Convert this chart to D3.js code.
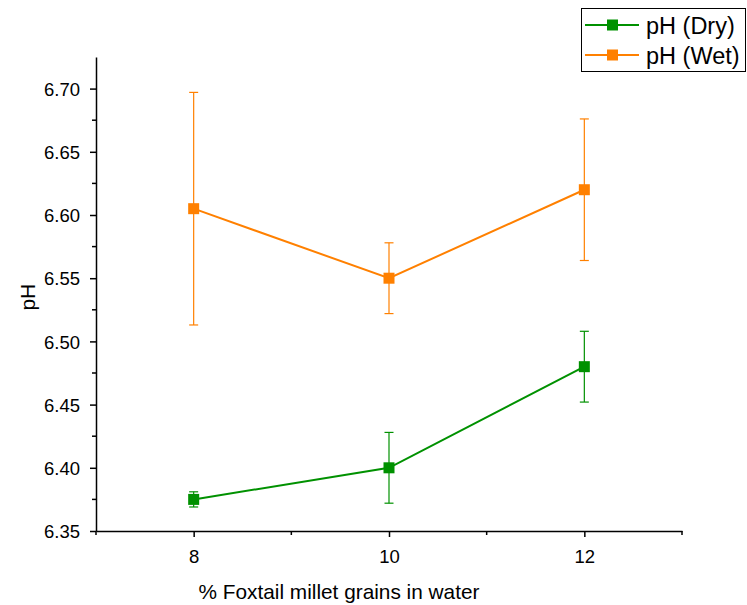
<!DOCTYPE html>
<html>
<head>
<meta charset="utf-8">
<script src="https://cdn.jsdelivr.net/npm/d3@7"></script>
<style>
  body { margin: 0; background: #fff; }
  svg { font-family: "Liberation Sans", Arial, sans-serif; }
</style>
</head>
<body>
<svg id="chart" width="747" height="605"></svg>
<script>
// data
const concentrations = [8, 10, 12];
const phDry = [6.375, 6.40, 6.48];
const phDryErr = [0.006, 0.028, 0.028];
const phWet = [6.605, 6.55, 6.62];
const phWetErr = [0.092, 0.028, 0.056];
const xTicks = [8, 10, 12];
const yTicks = [6.35, 6.40, 6.45, 6.50, 6.55, 6.60, 6.65, 6.70];

const series = [
  { name: "pH (Dry)", values: phDry, err: phDryErr, color: "#009100" },
  { name: "pH (Wet)", values: phWet, err: phWetErr, color: "#ff8000" }
];

const svg = d3.select("#chart");
const plotL = 96, plotR = 682, plotT = 57, plotB = 531;

const x = d3.scaleLinear().domain([7, 13]).range([plotL, plotR]);
const y = d3.scaleLinear().domain([6.35, 6.725]).range([plotB, plotT]);

// axes
const xAxis = d3.axisBottom(x).tickValues(xTicks).tickFormat(d3.format("d")).tickSize(6).tickSizeOuter(0);
const gx = svg.append("g").attr("transform", `translate(0,${plotB})`).call(xAxis);
gx.selectAll("text").attr("font-size", 18.5).attr("y", 32).attr("dy", 0).attr("fill", "#000");
// minor ticks
svg.append("g").selectAll("line").data([7, 9, 11, 13]).join("line")
  .attr("x1", d => x(d)).attr("x2", d => x(d))
  .attr("y1", plotB).attr("y2", plotB + 4)
  .attr("stroke", "#000").attr("stroke-width", 1.5);

const yAxis = d3.axisLeft(y).tickValues(yTicks).tickFormat(d3.format(".2f")).tickSize(6).tickSizeOuter(0);
const gy = svg.append("g").attr("transform", `translate(${plotL},0)`).call(yAxis);
gy.selectAll("text").attr("font-size", 18.5).attr("x", -16).attr("dy", "0.36em").attr("fill", "#000");
svg.append("g").selectAll("line").data(d3.range(6.375, 6.72, 0.05)).join("line")
  .attr("x1", plotL - 4).attr("x2", plotL)
  .attr("y1", d => y(d)).attr("y2", d => y(d))
  .attr("stroke", "#000").attr("stroke-width", 1.5);

[gx, gy].forEach(g => {
  g.select(".domain").attr("stroke-width", 1.5);
  g.selectAll(".tick line").attr("stroke-width", 1.5);
});

// titles
svg.append("text").attr("x", 339).attr("y", 599)
  .attr("text-anchor", "middle").attr("font-size", 20.8).text("% Foxtail millet grains in water");
svg.append("text").attr("transform", `translate(35,${y(6.535)}) rotate(-90)`)
  .attr("text-anchor", "middle").attr("font-size", 21).text("pH");

// series
series.forEach(s => {
  const pts = concentrations.map((c, i) => ({ c: c, v: s.values[i], e: s.err[i] }));
  const g = svg.append("g");
  g.append("path").datum(pts)
    .attr("fill", "none").attr("stroke", s.color).attr("stroke-width", 2)
    .attr("d", d3.line().x(d => x(d.c)).y(d => y(d.v)));
  const eb = g.selectAll(".err").data(pts).join("g").attr("stroke", s.color).attr("stroke-width", 1.2);
  eb.append("line").attr("x1", d => x(d.c)).attr("x2", d => x(d.c))
    .attr("y1", d => y(d.v - d.e)).attr("y2", d => y(d.v + d.e));
  eb.append("line").attr("x1", d => x(d.c) - 4.5).attr("x2", d => x(d.c) + 4.5)
    .attr("y1", d => y(d.v + d.e)).attr("y2", d => y(d.v + d.e));
  eb.append("line").attr("x1", d => x(d.c) - 4.5).attr("x2", d => x(d.c) + 4.5)
    .attr("y1", d => y(d.v - d.e)).attr("y2", d => y(d.v - d.e));
  g.selectAll("rect").data(pts).join("rect")
    .attr("x", d => x(d.c) - 5.5).attr("y", d => y(d.v) - 5.5)
    .attr("width", 11).attr("height", 11).attr("fill", s.color);
});

// legend
const lg = svg.append("g");
lg.append("rect").attr("x", 581.5).attr("y", 8.5).attr("width", 164).attr("height", 63)
  .attr("fill", "#fff").attr("stroke", "#000").attr("stroke-width", 1);
series.forEach((s, i) => {
  const cy = 25 + i * 30;
  lg.append("line").attr("x1", 585).attr("x2", 639).attr("y1", cy).attr("y2", cy)
    .attr("stroke", s.color).attr("stroke-width", 2);
  lg.append("rect").attr("x", 607).attr("y", cy - 5.5).attr("width", 11).attr("height", 11).attr("fill", s.color);
  lg.append("text").attr("x", 646).attr("y", cy + 9).attr("font-size", 23.5).text(s.name);
});
</script>
</body>
</html>
